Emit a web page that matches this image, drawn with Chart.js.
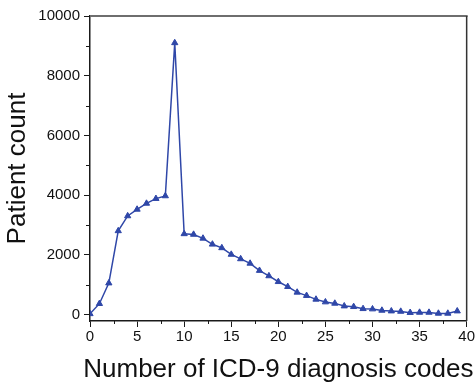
<!DOCTYPE html>
<html lang="en">
<head>
  <meta charset="UTF-8">
  <title>Patient count by number of ICD-9 codes</title>
  <script src="https://cdn.jsdelivr.net/npm/chart.js"></script>
  <style>
    html, body { margin: 0; padding: 0; background: #fff; }
    #wrap { width: 476px; height: 382px; }
  </style>
</head>
<body>
  <div id="wrap"><canvas id="chart" width="476" height="382"></canvas></div>

  <script>
    // number of ICD-9 diagnosis codes per patient
    const codes = [0, 1, 2, 3, 4, 5, 6, 7, 8, 9, 10, 11, 12, 13, 14, 15, 16, 17, 18, 19,
                   20, 21, 22, 23, 24, 25, 26, 27, 28, 29, 30, 31, 32, 33, 34, 35, 36, 37, 38, 39];
    // patients with that many codes
    const patientCounts = [20, 360, 1050, 2800, 3300, 3520, 3720, 3880, 3970, 9100,
                           2700, 2680, 2550, 2350, 2230, 2010, 1860, 1710, 1470, 1290,
                           1095, 930, 740, 630, 505, 415, 370, 280, 258, 190,
                           180, 135, 112, 100, 60, 67, 67, 35, 35, 112];
    const xTicks = [0, 5, 10, 15, 20, 25, 30, 35, 40];
    const yTicks = [0, 2000, 4000, 6000, 8000, 10000];

    const FONT = '"Liberation Sans", Arial, Helvetica, sans-serif';
    const lineColor = '#2f47a8';
    const axisColor = '#1a1a1a';

    // top/right frame, minor ticks and the x title (drawn so it can run past the plot)
    const framePlugin = {
      id: 'frame',
      afterDraw(chart) {
        const { ctx, chartArea: a, scales: { x, y } } = chart;
        ctx.save();
        // top edge (grey) and right edge
        ctx.strokeStyle = '#6e6e6e';
        ctx.lineWidth = 2;
        ctx.beginPath();
        ctx.moveTo(a.left, a.top);
        ctx.lineTo(a.right + 1, a.top);
        ctx.stroke();
        ctx.strokeStyle = '#333';
        ctx.lineWidth = 1.5;
        ctx.beginPath();
        ctx.moveTo(a.right, a.top);
        ctx.lineTo(a.right, a.bottom);
        ctx.stroke();

        // minor ticks
        ctx.strokeStyle = axisColor;
        ctx.lineWidth = 1;
        for (let i = 0; i < xTicks.length - 1; i++) {
          const px = Math.round(x.getPixelForValue((xTicks[i] + xTicks[i + 1]) / 2)) + 0.5;
          ctx.beginPath();
          ctx.moveTo(px, a.bottom);
          ctx.lineTo(px, a.bottom + 3);
          ctx.stroke();
        }
        for (let i = 0; i < yTicks.length - 1; i++) {
          const py = Math.round(y.getPixelForValue((yTicks[i] + yTicks[i + 1]) / 2)) + 0.5;
          ctx.beginPath();
          ctx.moveTo(a.left - 4, py);
          ctx.lineTo(a.left, py);
          ctx.stroke();
        }

        // x axis title
        ctx.fillStyle = '#111';
        ctx.font = '26px ' + FONT;
        ctx.textAlign = 'center';
        ctx.textBaseline = 'alphabetic';
        ctx.fillText('Number of ICD-9 diagnosis codes', (a.left + a.right) / 2, 377);
        ctx.restore();
      }
    };

    new Chart(document.getElementById('chart'), {
      type: 'line',
      data: {
        labels: codes,
        datasets: [{
          label: 'Patient count',
          data: codes.map((c, i) => ({ x: c, y: patientCounts[i] })),
          borderColor: lineColor,
          backgroundColor: lineColor,
          borderWidth: 1.5,
          pointStyle: 'triangle',
          pointRadius: 3.6,
          pointBorderWidth: 1,
          pointBorderColor: lineColor,
          pointBackgroundColor: lineColor,
          tension: 0,
          fill: false
        }]
      },
      options: {
        responsive: false,
        animation: false,
        layout: { padding: { top: 16, right: 8, left: 0, bottom: 0 } },
        plugins: {
          legend: { display: false },
          tooltip: { enabled: false }
        },
        scales: {
          x: {
            type: 'linear',
            min: 0,
            max: 40,
            afterBuildTicks: s => { s.ticks = xTicks.map(v => ({ value: v })); },
            afterFit: s => { s.height = 61; },
            grid: { drawOnChartArea: false, drawTicks: true, tickLength: 6, tickColor: axisColor, tickWidth: 1 },
            border: { display: true, color: axisColor, width: 1.5 },
            ticks: { color: '#111', padding: 1, font: { family: FONT, size: 15 }, maxRotation: 0 }
          },
          y: {
            type: 'linear',
            min: -220,
            max: 10000,
            afterBuildTicks: s => { s.ticks = yTicks.map(v => ({ value: v })); },
            afterFit: s => { s.width = 90; },
            grid: { drawOnChartArea: false, drawTicks: true, tickLength: 6, tickColor: axisColor, tickWidth: 1 },
            border: { display: true, color: axisColor, width: 1.5 },
            ticks: {
              color: '#111',
              padding: 4,
              font: { family: FONT, size: 15 },
              callback: v => String(v)
            },
            title: {
              display: true,
              text: 'Patient count',
              color: '#111',
              font: { family: FONT, size: 26 },
              padding: { top: 2, bottom: 0 }
            }
          }
        }
      },
      plugins: [framePlugin]
    });
  </script>
</body>
</html>
